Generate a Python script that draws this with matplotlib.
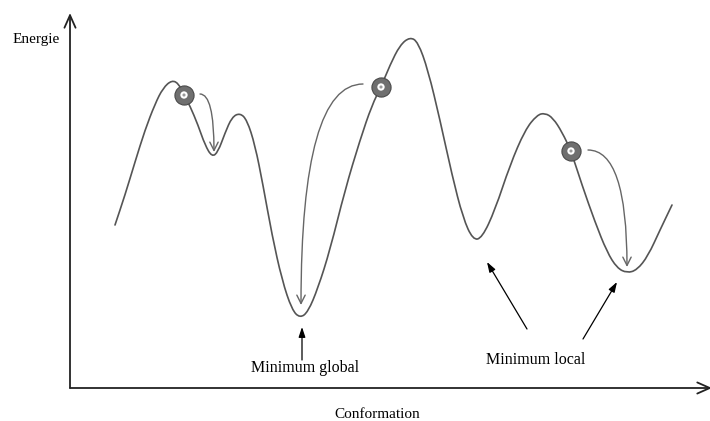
import matplotlib
matplotlib.use('Agg')
import matplotlib.pyplot as plt
from matplotlib.path import Path
from matplotlib.patches import PathPatch

# Paysage d'énergie (unités arbitraires : conformation, énergie)
curve_x = [45, 55, 65, 75, 85, 93, 102, 109, 114, 120, 128, 135, 142, 148, 155, 162,
           170, 177, 185, 193, 202, 212, 222, 230, 238, 248, 260, 275, 290, 302, 311,
           320, 330, 340, 348, 358, 370, 382, 393, 403, 412, 425, 440, 455, 467, 475,
           483, 492, 501, 512, 525, 537, 547, 557, 567, 578, 590, 602]
curve_y = [163, 193, 226, 258, 284, 300, 308, 304, 293, 282, 263, 243, 231, 236, 255, 271,
           275, 268, 243, 203, 153, 108, 78, 70, 76, 100, 138, 198, 248, 283, 301,
           323, 343, 351, 346, 318, 268, 213, 170, 148, 150, 178, 223, 258, 273, 275,
           270, 256, 237, 203, 166, 136, 120, 115, 118, 132, 158, 183]

# billes (position de départ) et flèches grises (chemin de descente)
ball_x = [114, 311, 501]
ball_y = [293, 301, 237]
slide_start = [(130, 294), (293, 304), (518, 238)]
slide_end = [(144, 236), (231, 83), (557, 121)]

# annotations
labels = ['Minimum global', 'Minimum local']
label_pos = [(235, 20), (466, 28)]
pointer_start = [(232, 28), (457, 59), (513, 49)]
pointer_end = [(232, 61), (417, 126), (547, 106)]

plt.rcParams['font.family'] = ['Liberation Serif', 'DejaVu Serif']

fig = plt.figure(figsize=(7.1, 4.21), dpi=100)
ax = fig.add_axes([70 / 710, 33 / 421, 642 / 710, 375 / 421])
ax.set_xlim(0, 642)
ax.set_ylim(0, 375)
ax.axis('off')

# axes avec flèches
for tip in [(0, 1), (1, 0)]:
    ax.annotate('', xy=tip, xytext=(0, 0), xycoords='axes fraction',
                arrowprops=dict(arrowstyle='->,head_length=0.9,head_width=0.4',
                                color='#222222', lw=1.3, shrinkA=0, shrinkB=0))

# courbe lissée : les points lus servent de sommets de contrôle (courbes quadratiques)
pts = list(zip(curve_x, curve_y))
verts = [pts[0], ((pts[0][0] + pts[1][0]) / 2, (pts[0][1] + pts[1][1]) / 2)]
codes = [Path.MOVETO, Path.LINETO]
for i in range(1, len(pts) - 1):
    mid = ((pts[i][0] + pts[i + 1][0]) / 2, (pts[i][1] + pts[i + 1][1]) / 2)
    verts += [pts[i], mid]
    codes += [Path.CURVE3, Path.CURVE3]
verts.append(pts[-1])
codes.append(Path.LINETO)
ax.add_patch(PathPatch(Path(verts, codes), facecolor='none', edgecolor='#555555',
                       lw=1.2, capstyle='round'))

for s, e in zip(slide_start, slide_end):
    ax.annotate('', xy=e, xytext=s,
                arrowprops=dict(arrowstyle='->,head_length=0.6,head_width=0.3',
                                connectionstyle='angle3,angleA=0,angleB=90',
                                color='#666666', lw=1.0, shrinkA=0, shrinkB=0))

ax.scatter(ball_x, ball_y, s=190, color='#6f6f6f', edgecolors='#4a4a4a', linewidths=0.8, zorder=3)
ax.scatter(ball_x, ball_y, s=28, color='white', edgecolors='none', zorder=4)
ax.scatter(ball_x, ball_y, s=5, color='#9a9a9a', edgecolors='none', zorder=5)

for s, e in zip(pointer_start, pointer_end):
    ax.annotate('', xy=e, xytext=s,
                arrowprops=dict(arrowstyle='-|>,head_length=0.6,head_width=0.2',
                                color='black', lw=0.9, shrinkA=0, shrinkB=0))

for lab, (x, y) in zip(labels, label_pos):
    ax.text(x, y, lab, ha='center', va='center', fontsize=11.5)

fig.text(13 / 710, 1 - 40 / 421, 'Energie', ha='left', va='center', fontsize=11)
fig.text(377 / 710, 1 - 414 / 421, 'Conformation', ha='center', va='center', fontsize=11)

fig.savefig('out.png', dpi=100, facecolor='white')
